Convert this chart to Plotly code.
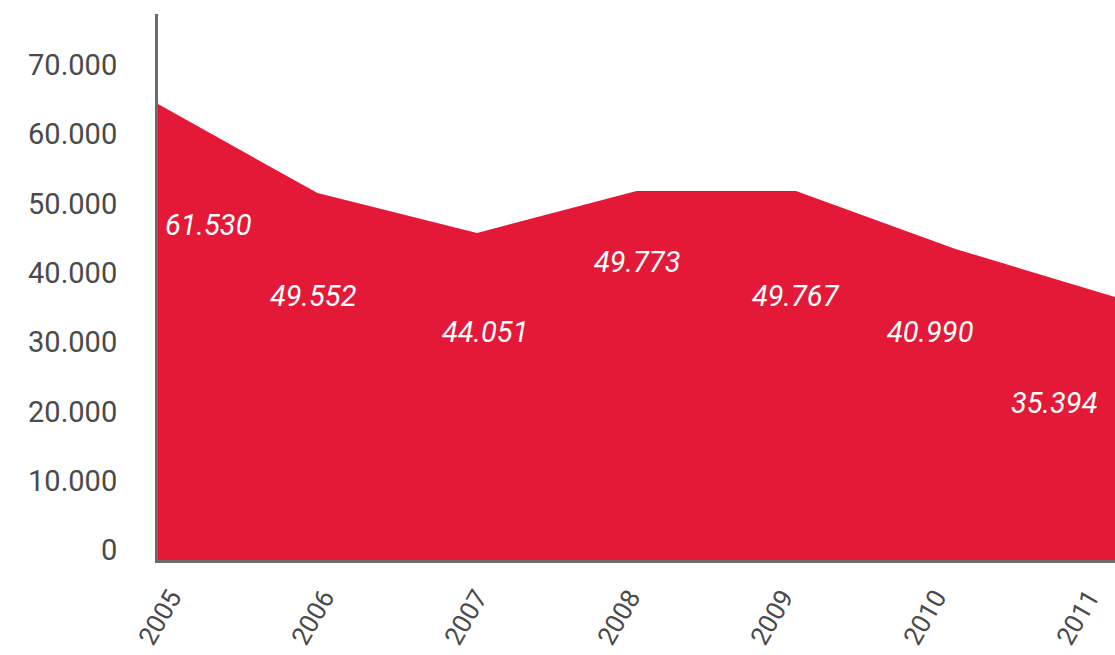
import plotly.graph_objects as go

years = [2005, 2006, 2007, 2008, 2009, 2010, 2011]
area_values = [65800, 52950, 47200, 53250, 53250, 44900, 37950]
label_text = ["61.530", "49.552", "44.051", "49.773", "49.767", "40.990", "35.394"]
y_ticks = [0, 10000, 20000, 30000, 40000, 50000, 60000, 70000]

RED = "#e31937"
GREY_TXT = "#4a4a4a"
GREY_LINE = "#6b6b6b"

# label offsets (px) from each vertex
label_dx = [50, -4, 8, 0, 0, -26, -61]
label_dy = [-121, -103, -99, -71, -105, -83, -106]

fig = go.Figure()
fig.add_trace(go.Scatter(
    x=years, y=area_values, mode="none", fill="tozeroy",
    fillcolor=RED, hoverinfo="skip", showlegend=False,
))
# carrier for the category-label axis (draws nothing)
fig.add_trace(go.Scatter(
    x=years, y=area_values, mode="none", xaxis="x2",
    hoverinfo="skip", showlegend=False,
))

for x, y, t, dx, dy in zip(years, area_values, label_text, label_dx, label_dy):
    fig.add_annotation(
        x=x, y=y, text=t, showarrow=False, xshift=dx, yshift=dy,
        xanchor="center", yanchor="middle",
        font=dict(family="Roboto", size=29, color="white", style="italic"),
    )

fig.update_layout(
    width=1115, height=655,
    margin=dict(l=158, r=0, t=14, b=95),
    paper_bgcolor="white", plot_bgcolor="white",
    separators=",.",
    font=dict(family="Roboto", color=GREY_TXT),
    hovermode=False,
    xaxis=dict(
        range=[2005, 2011], showticklabels=False,
        showgrid=False, zeroline=False, showline=True,
        linecolor=GREY_LINE, linewidth=3, ticks="",
    ),
    xaxis2=dict(
        overlaying="x", anchor="y", side="bottom",
        range=[2004.915, 2011.17], tickvals=years,
        ticktext=[str(y) for y in years],
        tickangle=-60, tickfont=dict(size=26, color=GREY_TXT),
        showgrid=False, zeroline=False, showline=False, ticks="",
        ticklabelstandoff=16,
    ),
    yaxis=dict(
        range=[0, 78800], tickvals=y_ticks, tickformat=",d",
        tickfont=dict(size=29, color=GREY_TXT),
        showgrid=False, zeroline=False, showline=True,
        linecolor=GREY_LINE, linewidth=3, ticks="",
        ticklabelshift=-10, ticklabelstandoff=32,
    ),
)

fig.write_html(
    "out.html",
    config={"displayModeBar": False},
    post_script="document.body.style.margin='0';document.body.style.overflow='hidden';",
)
